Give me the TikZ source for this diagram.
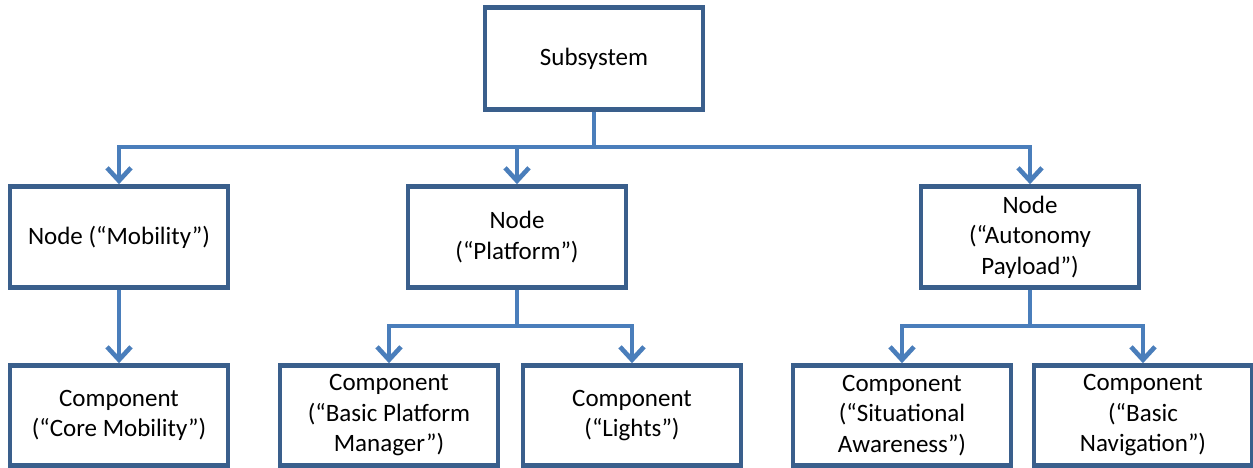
\documentclass[tikz,border=0pt]{standalone}
\usepackage{fontspec}
\setmainfont{Carlito}
\usetikzlibrary{arrows.meta}
\definecolor{boxline}{HTML}{3A5F8C}
\definecolor{connline}{HTML}{4A7EBB}
\begin{document}
\begin{tikzpicture}[x=1pt,y=-1pt,
  box/.style={draw=boxline,line width=4.6pt,fill=white,minimum width=218pt,inner sep=0pt,
    align=center,font=\fontsize{25}{30.5}\selectfont,text=black},
  conn/.style={draw=connline,line width=4.6pt,line join=miter},
  arr/.style={conn,-{Straight Barb[length=13pt,width=24pt,line width=4.6pt]}}]
\useasboundingbox (0,0) rectangle (1253,468);
\node[box,minimum height=102pt] (sub) at (594,58.5) {Subsystem};
\node[box,minimum height=101pt] (mob) at (119,237) {Node (“Mobility”)};
\node[box,minimum height=101pt] (plat) at (517,237) {Node\\(“Platform”)};
\node[box,minimum height=101pt] (aut) at (1030,237) {Node\\(“Autonomy\\Payload”)};
\node[box,minimum height=100pt] (cm) at (119,415.5) {Component\\(“Core Mobility”)};
\node[box,minimum height=100pt] (bpm) at (389,415.5) {Component\\(“Basic Platform\\Manager”)};
\node[box,minimum height=100pt] (lig) at (632,415.5) {Component\\(“Lights”)};
\node[box,minimum height=100pt] (sa) at (902,415.5) {Component\\(“Situational\\Awareness”)};
\node[box,minimum height=100pt] (bn) at (1143,415.5) {Component\\(“Basic\\Navigation”)};
\coordinate (b0) at (594,147);
\coordinate (b1) at (517,326);
\coordinate (b2) at (1030,326);
\draw[conn] (sub.south) -- (b0);
\draw[arr] (b0) -| (mob.north);
\draw[arr] (b0) -| (plat.north);
\draw[arr] (b0) -| (aut.north);
\draw[arr] (mob.south) -- (cm.north);
\draw[conn] (plat.south) -- (b1);
\draw[arr] (b1) -| (bpm.north);
\draw[arr] (b1) -| (lig.north);
\draw[conn] (aut.south) -- (b2);
\draw[arr] (b2) -| (sa.north);
\draw[arr] (b2) -| (bn.north);
\end{tikzpicture}
\end{document}
